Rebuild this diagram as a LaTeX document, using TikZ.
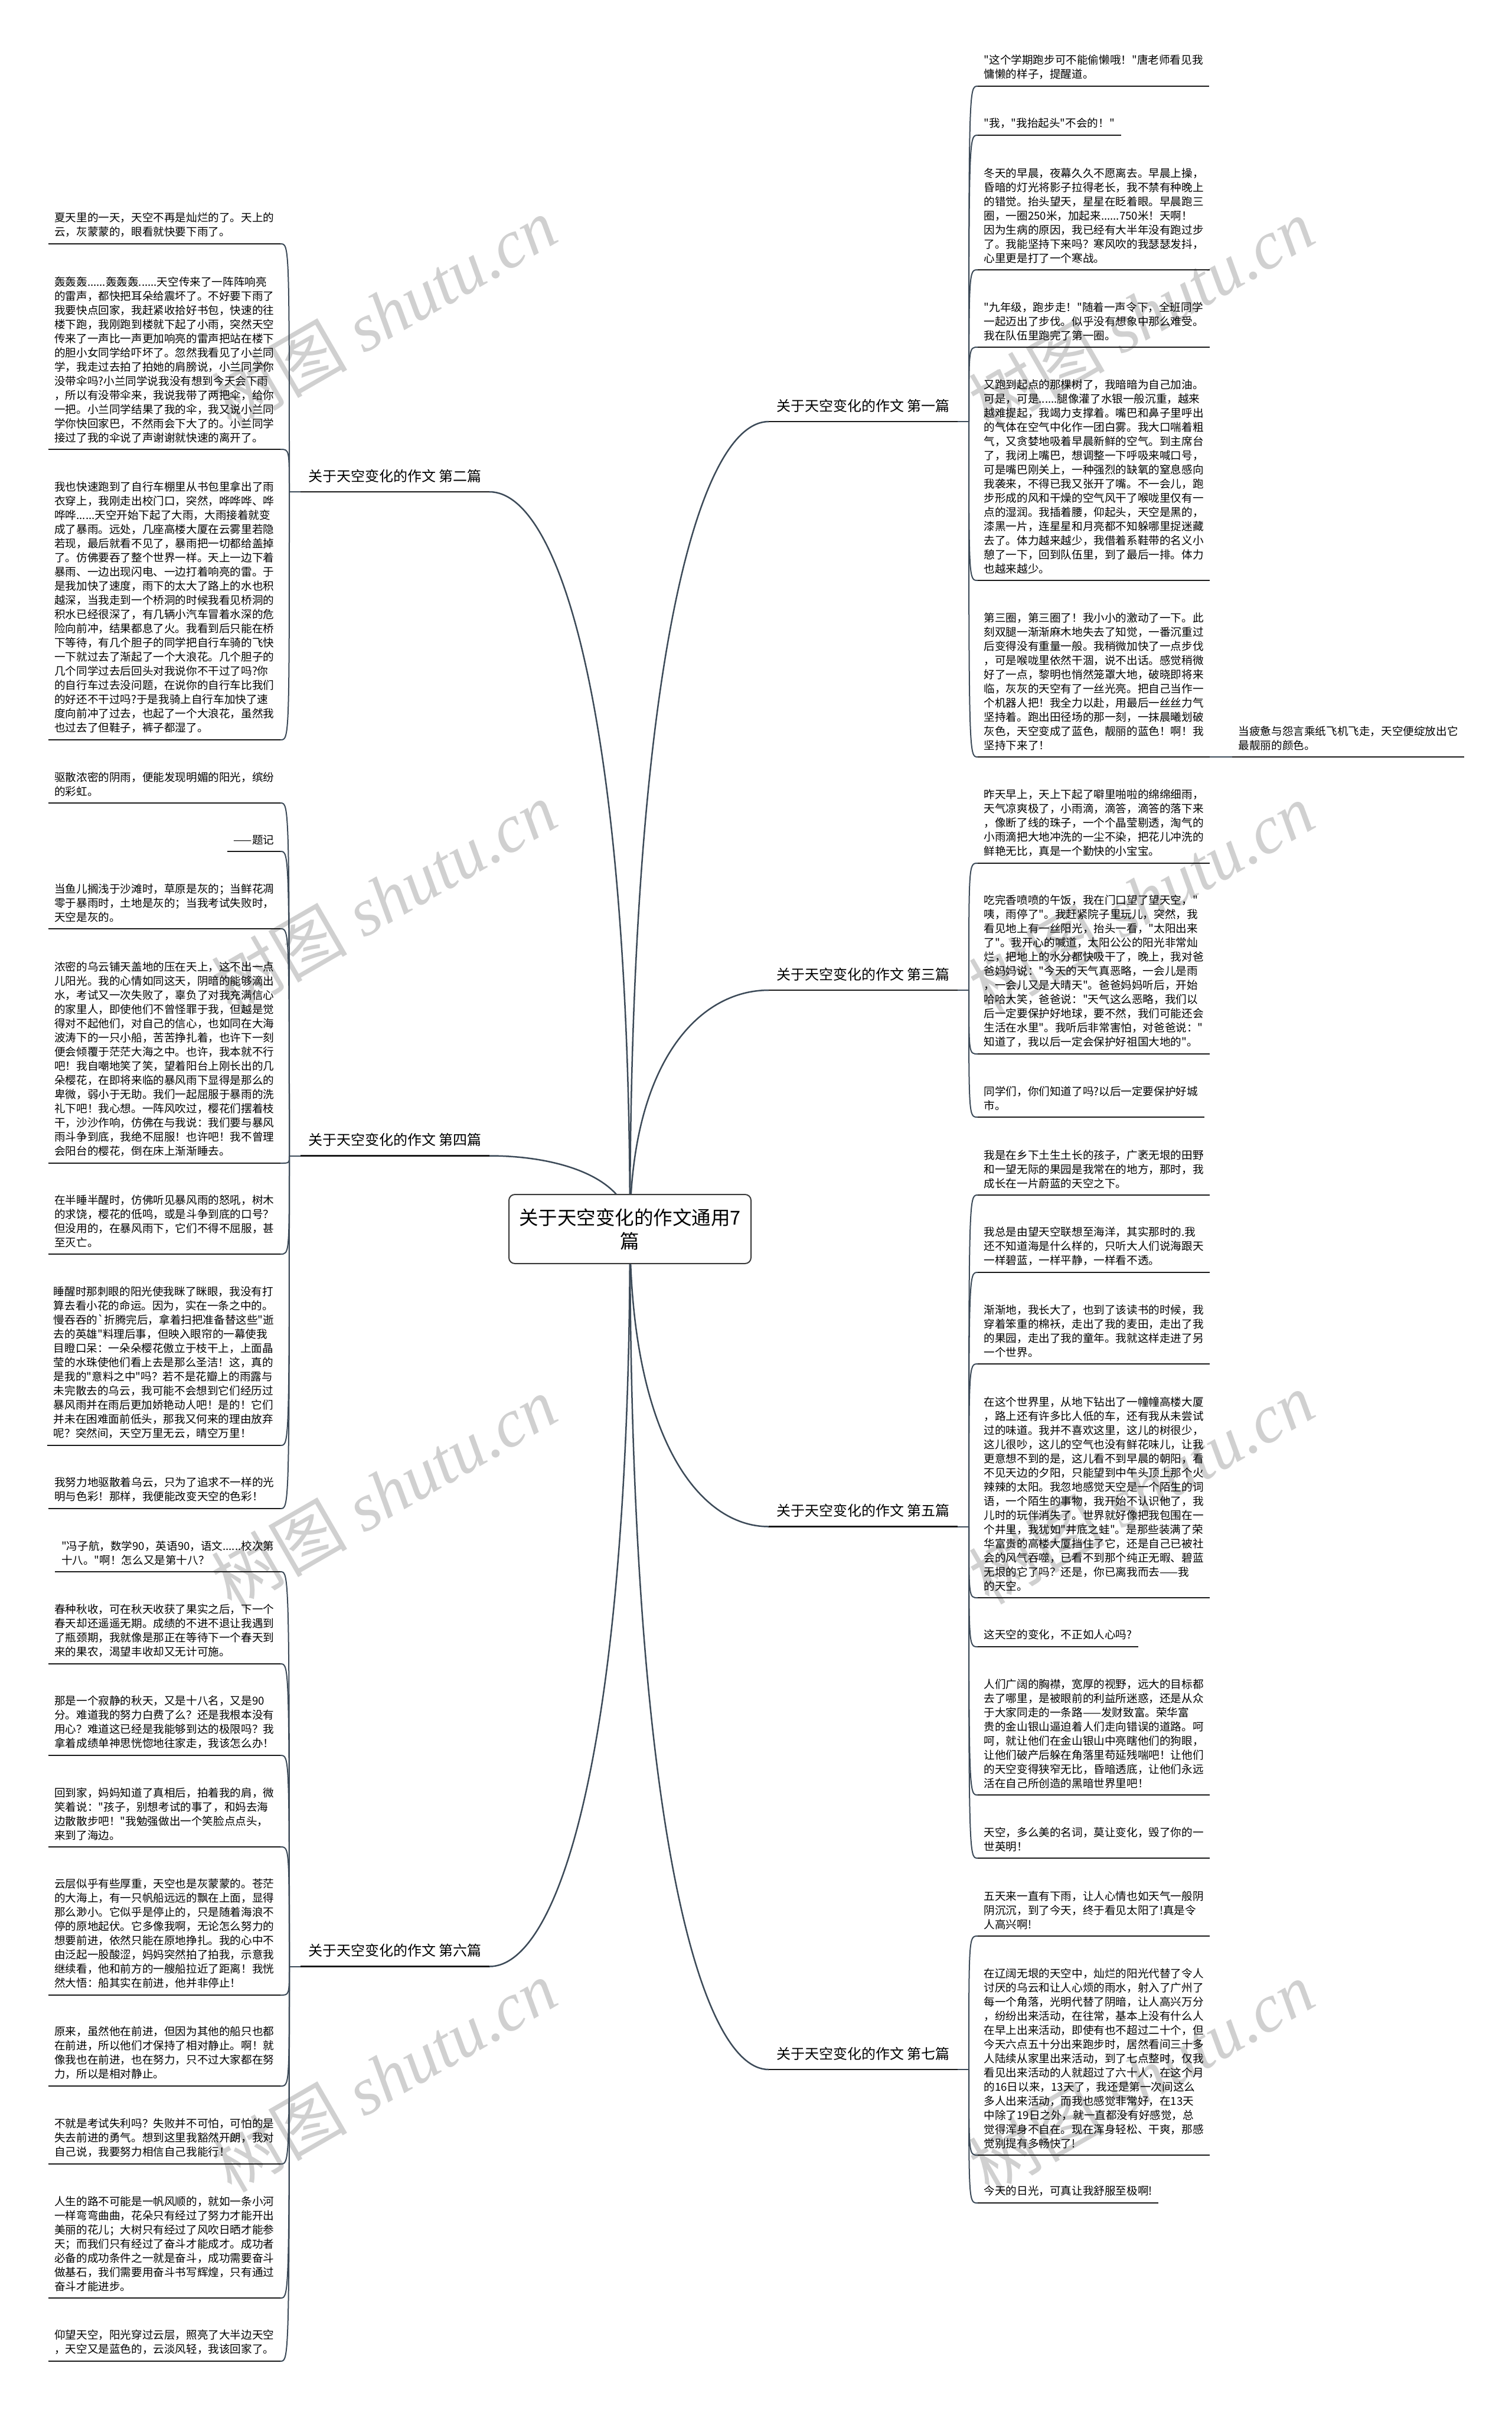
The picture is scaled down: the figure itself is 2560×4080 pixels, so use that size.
\documentclass[tikz,border=0pt]{standalone}
\usepackage{fontspec}
\newfontfamily\cjk{Noto Sans CJK SC}
\newfontfamily\wmfont{Liberation Serif}
\definecolor{conncol}{HTML}{3C4A58}
\definecolor{linecol}{HTML}{1A1A1A}
\definecolor{wmcol}{HTML}{D0D0D0}
\definecolor{rootline}{HTML}{3A3A3A}
\pgfdeclarelayer{bg}
\pgfsetlayers{bg,main}
\tikzset{
  txt/.style={font=\cjk\fontsize{18.6}{24}\selectfont, align=left, inner xsep=10.5, inner ysep=11, text=black},
  lt/.style={txt, anchor=south east},
  rt/.style={txt, anchor=south west},
  lab/.style={font=\cjk\fontsize{24}{30}\selectfont, inner xsep=13, inner ysep=15.5, text=black},
  llab/.style={lab, anchor=south east},
  rlab/.style={lab, anchor=south west},
  conn/.style={draw=conncol, line width=2pt},
  bconn/.style={draw=conncol, line width=2.5pt},
  uline/.style={draw=linecol, line width=2.2pt},
  rootbox/.style={draw=rootline, line width=2pt, rounded corners=10pt, fill=white,
    minimum width=410pt, minimum height=117pt, inner sep=0pt, align=center,
    font=\cjk\fontsize{32.5}{40}\selectfont},
  wm/.style={rotate=30, text=wmcol, inner sep=0pt, font=\fontsize{115}{130}\selectfont}
}
\newcommand\wmtext{{\cjk 树图}\hspace{28pt}{\wmfont\itshape shutu.cn}}
\begin{document}
\begin{tikzpicture}[x=1pt,y=-1pt]
\useasboundingbox (0,0) rectangle (2560,4080);
\begin{pgfonlayer}{bg}
\fill[white] (0,0) rectangle (2560,4080);
\node[wm] (wm1) at (650,530) {\wmtext};
\node[wm] (wm2) at (650,1520) {\wmtext};
\node[wm] (wm3) at (650,2527) {\wmtext};
\node[wm] (wm4) at (650,3516) {\wmtext};
\node[wm] (wm5) at (1933,532) {\wmtext};
\node[wm] (wm6) at (1933,1522) {\wmtext};
\node[wm] (wm7) at (1933,2520) {\wmtext};
\node[wm] (wm8) at (1933,3518) {\wmtext};
\end{pgfonlayer}

% root
\node[rootbox] (root) at (1067,2081.5) {关于天空变化的作文通用7\\篇};

% branch labels
\node[llab] (b2) at (829,833) {关于天空变化的作文 第二篇};
\node[llab] (b4) at (829,1957.5) {关于天空变化的作文 第四篇};
\node[llab] (b6) at (829,3330.5) {关于天空变化的作文 第六篇};
\node[rlab] (b1) at (1302,714) {关于天空变化的作文 第一篇};
\node[rlab] (b3) at (1302,1677) {关于天空变化的作文 第三篇};
\node[rlab] (b5) at (1302,2585.5) {关于天空变化的作文 第五篇};
\node[rlab] (b7) at (1302,3505) {关于天空变化的作文 第七篇};

\coordinate (h2) at (490,833);
\coordinate (h4) at (490,1957.5);
\coordinate (h6) at (490,3330.5);
\coordinate (h1) at (1641,714);
\coordinate (h3) at (1641,1677);
\coordinate (h5) at (1641,2585.5);
\coordinate (h7) at (1641,3505);

\begin{pgfonlayer}{bg}
\draw[bconn] (b2.south east) .. controls +(119,0) and +(0,-874) .. (root.center);
\draw[bconn] (b4.south east) .. controls +(119,0) and +(0,-86) .. (root.center);
\draw[bconn] (b6.south east) .. controls +(119,0) and +(0,875) .. (root.center);
\draw[bconn] (b1.south west) .. controls +(-118,0) and +(0,-957) .. (root.center);
\draw[bconn] (b3.south west) .. controls +(-118,0) and +(0,-283) .. (root.center);
\draw[bconn] (b5.south west) .. controls +(-118,0) and +(0,353) .. (root.center);
\draw[bconn] (b7.south west) .. controls +(-118,0) and +(0,997) .. (root.center);
\end{pgfonlayer}

\foreach \b/\h in {b2/h2,b4/h4,b6/h6}{
  \draw[conn] (\h) -- (\b.south west);
  \draw[uline] (\b.south west) -- (\b.south east);
}
\foreach \b/\h in {b1/h1,b3/h3,b5/h5,b7/h7}{
  \draw[conn] (\b.south east) -- (\h);
  \draw[uline] (\b.south west) -- (\b.south east);
}

% ---------------- left children ----------------
\node[lt] (l1) at (475,413) {夏天里的一天，天空不再是灿烂的了。天上的\\云，灰蒙蒙的，眼看就快要下雨了。};
\node[lt] (l2) at (475,761) {轰轰轰......轰轰轰......天空传来了一阵阵响亮\\的雷声，都快把耳朵给震坏了。不好要下雨了\\我要快点回家，我赶紧收拾好书包，快速的往\\楼下跑，我刚跑到楼就下起了小雨，突然天空\\传来了一声比一声更加响亮的雷声把站在楼下\\的胆小女同学给吓坏了。忽然我看见了小兰同\\学，我走过去拍了拍她的肩膀说，小兰同学你\\没带伞吗?小兰同学说我没有想到今天会下雨\\，所以有没带伞来，我说我带了两把伞，给你\\一把。小兰同学结果了我的伞，我又说小兰同\\学你快回家巴，不然雨会下大了的。小兰同学\\接过了我的伞说了声谢谢就快速的离开了。};
\node[lt] (l3) at (475,1253) {我也快速跑到了自行车棚里从书包里拿出了雨\\衣穿上，我刚走出校门口，突然，哗哗哗、哗\\哗哗......天空开始下起了大雨，大雨接着就变\\成了暴雨。远处，几座高楼大厦在云雾里若隐\\若现，最后就看不见了，暴雨把一切都给盖掉\\了。仿佛要吞了整个世界一样。天上一边下着\\暴雨、一边出现闪电、一边打着响亮的雷。于\\是我加快了速度，雨下的太大了路上的水也积\\越深，当我走到一个桥洞的时候我看见桥洞的\\积水已经很深了，有几辆小汽车冒着水深的危\\险向前冲，结果都息了火。我看到后只能在桥\\下等待，有几个胆子的同学把自行车骑的飞快\\一下就过去了渐起了一个大浪花。几个胆子的\\几个同学过去后回头对我说你不干过了吗?你\\的自行车过去没问题，在说你的自行车比我们\\的好还不干过吗?于是我骑上自行车加快了速\\度向前冲了过去，也起了一个大浪花，虽然我\\也过去了但鞋子，裤子都湿了。};

\node[lt] (l4) at (475,1360) {驱散浓密的阴雨，便能发现明媚的阳光，缤纷\\的彩虹。};
\node[lt] (l5) at (475,1442) {——题记};
\node[lt] (l6) at (475,1573) {当鱼儿搁浅于沙滩时，草原是灰的；当鲜花凋\\零于暴雨时，土地是灰的；当我考试失败时，\\天空是灰的。};
\node[lt] (l7) at (475,1970) {浓密的乌云铺天盖地的压在天上，这不出一点\\儿阳光。我的心情如同这天，阴暗的能够滴出\\水，考试又一次失败了，辜负了对我充满信心\\的家里人，即使他们不曾怪罪于我，但越是觉\\得对不起他们，对自己的信心，也如同在大海\\波涛下的一只小船，苦苦挣扎着，也许下一刻\\便会倾覆于茫茫大海之中。也许，我本就不行\\吧！我自嘲地笑了笑，望着阳台上刚长出的几\\朵樱花，在即将来临的暴风雨下显得是那么的\\卑微，弱小于无助。我们一起屈服于暴雨的洗\\礼下吧！我心想。一阵风吹过，樱花们摆着枝\\干，沙沙作响，仿佛在与我说：我们要与暴风\\雨斗争到底，我绝不屈服！也许吧！我不曾理\\会阳台的樱花，倒在床上渐渐睡去。};
\node[lt] (l8) at (475,2124) {在半睡半醒时，仿佛听见暴风雨的怒吼，树木\\的求饶，樱花的低鸣，或是斗争到底的口号？\\但没用的，在暴风雨下，它们不得不屈服，甚\\至灭亡。};
\node[lt] (l9) at (475,2448) {睡醒时那刺眼的阳光使我眯了眯眼，我没有打\\算去看小花的命运。因为，实在一条之中的。\\慢吞吞的`折腾完后，拿着扫把准备替这些"逝\\去的英雄"料理后事，但映入眼帘的一幕使我\\目瞪口呆：一朵朵樱花傲立于枝干上，上面晶\\莹的水珠使他们看上去是那么圣洁！这，真的\\是我的"意料之中"吗？若不是花瓣上的雨露与\\未完散去的乌云，我可能不会想到它们经历过\\暴风雨并在雨后更加娇艳动人吧！是的！它们\\并未在困难面前低头，那我又何来的理由放弃\\呢？突然间，天空万里无云，晴空万里！};
\node[lt] (l10) at (475,2555) {我努力地驱散着乌云，只为了追求不一样的光\\明与色彩！那样，我便能改变天空的色彩！};

\node[lt] (l11) at (475,2662) {"冯子航，数学90，英语90，语文......校次第\\十八。"啊！怎么又是第十八？};
\node[lt] (l12) at (475,2818) {春种秋收，可在秋天收获了果实之后，下一个\\春天却还遥遥无期。成绩的不进不退让我遇到\\了瓶颈期，我就像是那正在等待下一个春天到\\来的果农，渴望丰收却又无计可施。};
\node[lt] (l13) at (475,2973) {那是一个寂静的秋天，又是十八名，又是90\\分。难道我的努力白费了么？还是我根本没有\\用心？难道这已经是我能够到达的极限吗？我\\拿着成绩单神思恍惚地往家走，我该怎么办！};
\node[lt] (l14) at (475,3128) {回到家，妈妈知道了真相后，拍着我的肩，微\\笑着说："孩子，别想考试的事了，和妈去海\\边散散步吧！"我勉强做出一个笑脸点点头，\\来到了海边。};
\node[lt] (l15) at (475,3379) {云层似乎有些厚重，天空也是灰蒙蒙的。苍茫\\的大海上，有一只帆船远远的飘在上面，显得\\那么渺小。它似乎是停止的，只是随着海浪不\\停的原地起伏。它多像我啊，无论怎么努力的\\想要前进，依然只能在原地挣扎。我的心中不\\由泛起一股酸涩，妈妈突然拍了拍我，示意我\\继续看，他和前方的一艘船拉近了距离！我恍\\然大悟：船其实在前进，他并非停止！};
\node[lt] (l16) at (475,3533) {原来，虽然他在前进，但因为其他的船只也都\\在前进，所以他们才保持了相对静止。啊！就\\像我也在前进，也在努力，只不过大家都在努\\力，所以是相对静止。};
\node[lt] (l17) at (475,3665) {不就是考试失利吗？失败并不可怕，可怕的是\\失去前进的勇气。想到这里我豁然开朗，我对\\自己说，我要努力相信自己我能行！};
\node[lt] (l18) at (475,3892) {人生的路不可能是一帆风顺的，就如一条小河\\一样弯弯曲曲，花朵只有经过了努力才能开出\\美丽的花儿；大树只有经过了风吹日晒才能参\\天；而我们只有经过了奋斗才能成才。成功者\\必备的成功条件之一就是奋斗，成功需要奋斗\\做基石，我们需要用奋斗书写辉煌，只有通过\\奋斗才能进步。};
\node[lt] (l19) at (475,3999) {仰望天空，阳光穿过云层，照亮了大半边天空\\，天空又是蓝色的，云淡风轻，我该回家了。};

% ---------------- right children ----------------
\node[rt] (r1) at (1656,146) {"这个学期跑步可不能偷懒哦！"唐老师看见我\\慵懒的样子，提醒道。};
\node[rt] (r2) at (1656,229) {"我，"我抬起头"不会的！"};
\node[rt] (r3) at (1656,457) {冬天的早晨，夜幕久久不愿离去。早晨上操，\\昏暗的灯光将影子拉得老长，我不禁有种晚上\\的错觉。抬头望天，星星在眨着眼。早晨跑三\\圈，一圈250米，加起来......750米！天啊！\\因为生病的原因，我已经有大半年没有跑过步\\了。我能坚持下来吗？寒风吹的我瑟瑟发抖，\\心里更是打了一个寒战。};
\node[rt] (r4) at (1656,588) {"九年级，跑步走！"随着一声令下，全班同学\\一起迈出了步伐。似乎没有想象中那么难受。\\我在队伍里跑完了第一圈。};
\node[rt] (r5) at (1656,983) {又跑到起点的那棵树了，我暗暗为自己加油。\\可是，可是......腿像灌了水银一般沉重，越来\\越难提起，我竭力支撑着。嘴巴和鼻子里呼出\\的气体在空气中化作一团白雾。我大口喘着粗\\气，又贪婪地吸着早晨新鲜的空气。到主席台\\了，我闭上嘴巴，想调整一下呼吸来喊口号，\\可是嘴巴刚关上，一种强烈的缺氧的窒息感向\\我袭来，不得已我又张开了嘴。不一会儿，跑\\步形成的风和干燥的空气风干了喉咙里仅有一\\点的湿润。我插着腰，仰起头，天空是黑的，\\漆黑一片，连星星和月亮都不知躲哪里捉迷藏\\去了。体力越来越少，我借着系鞋带的名义小\\憩了一下，回到队伍里，到了最后一排。体力\\也越来越少。};
\node[rt] (r6) at (1656,1282) {第三圈，第三圈了！我小小的激动了一下。此\\刻双腿一渐渐麻木地失去了知觉，一番沉重过\\后变得没有重量一般。我稍微加快了一点步伐\\，可是喉咙里依然干涸，说不出话。感觉稍微\\好了一点，黎明也悄然笼罩大地，破晓即将来\\临，灰灰的天空有了一丝光亮。把自己当作一\\个机器人把！我全力以赴，用最后一丝丝力气\\坚持着。跑出田径场的那一刻，一抹晨曦划破\\灰色，天空变成了蓝色，靓丽的蓝色！啊！我\\坚持下来了！};
\node[rt] (f1) at (2087,1282) {当疲惫与怨言乘纸飞机飞走，天空便绽放出它\\最靓丽的颜色。};

\node[rt] (r7) at (1656,1462) {昨天早上，天上下起了噼里啪啦的绵绵细雨，\\天气凉爽极了，小雨滴，滴答，滴答的落下来\\，像断了线的珠子，一个个晶莹剔透，淘气的\\小雨滴把大地冲洗的一尘不染，把花儿冲洗的\\鲜艳无比，真是一个勤快的小宝宝。};
\node[rt] (r8) at (1656,1785) {吃完香喷喷的午饭，我在门口望了望天空，"\\咦，雨停了"。我赶紧院子里玩儿，突然，我\\看见地上有一丝阳光，抬头一看，"太阳出来\\了"。我开心的喊道，太阳公公的阳光非常灿\\烂，把地上的水分都快吸干了，晚上，我对爸\\爸妈妈说："今天的天气真恶略，一会儿是雨\\，一会儿又是大晴天"。爸爸妈妈听后，开始\\哈哈大笑，爸爸说："天气这么恶略，我们以\\后一定要保护好地球，要不然，我们可能还会\\生活在水里"。我听后非常害怕，对爸爸说："\\知道了，我以后一定会保护好祖国大地的"。};
\node[rt] (r9) at (1656,1892) {同学们，你们知道了吗?以后一定要保护好城\\市。};

\node[rt] (r10) at (1656,2024) {我是在乡下土生土长的孩子，广袤无垠的田野\\和一望无际的果园是我常在的地方，那时，我\\成长在一片蔚蓝的天空之下。};
\node[rt] (r11) at (1656,2155) {我总是由望天空联想至海洋，其实那时的.我\\还不知道海是什么样的，只听大人们说海跟天\\一样碧蓝，一样平静，一样看不透。};
\node[rt] (r12) at (1656,2310) {渐渐地，我长大了，也到了该读书的时候，我\\穿着笨重的棉袄，走出了我的麦田，走出了我\\的果园，走出了我的童年。我就这样走进了另\\一个世界。};
\node[rt] (r13) at (1656,2706) {在这个世界里，从地下钻出了一幢幢高楼大厦\\，路上还有许多比人低的车，还有我从未尝试\\过的味道。我并不喜欢这里，这儿的树很少，\\这儿很吵，这儿的空气也没有鲜花味儿，让我\\更意想不到的是，这儿看不到早晨的朝阳，看\\不见天边的夕阳，只能望到中午头顶上那个火\\辣辣的太阳。我忽地感觉天空是一个陌生的词\\语，一个陌生的事物，我开始不认识他了，我\\儿时的玩伴消失了。世界就好像把我包围在一\\个井里，我犹如"井底之蛙"。是那些装满了荣\\华富贵的高楼大厦挡住了它，还是自己已被社\\会的风气吞噬，已看不到那个纯正无暇、碧蓝\\无垠的它了吗？还是，你已离我而去——我\\的天空。};
\node[rt] (r14) at (1656,2789) {这天空的变化，不正如人心吗?};
\node[rt] (r15) at (1656,3040) {人们广阔的胸襟，宽厚的视野，远大的目标都\\去了哪里，是被眼前的利益所迷惑，还是从众\\于大家同走的一条路——发财致富。荣华富\\贵的金山银山逼迫着人们走向错误的道路。呵\\呵，就让他们在金山银山中亮瞎他们的狗眼，\\让他们破产后躲在角落里苟延残喘吧！让他们\\的天空变得狭窄无比，昏暗透底，让他们永远\\活在自己所创造的黑暗世界里吧！};
\node[rt] (r16) at (1656,3147) {天空，多么美的名词，莫让变化，毁了你的一\\世英明！};

\node[rt] (r17) at (1656,3279) {五天来一直有下雨，让人心情也如天气一般阴\\阴沉沉，到了今天，终于看见太阳了!真是令\\人高兴啊!};
\node[rt] (r18) at (1656,3650) {在辽阔无垠的天空中，灿烂的阳光代替了令人\\讨厌的乌云和让人心烦的雨水，射入了广州了\\每一个角落，光明代替了阴暗，让人高兴万分\\，纷纷出来活动，在往常，基本上没有什么人\\在早上出来活动，即使有也不超过二十个，但\\今天六点五十分出来跑步时，居然看间三十多\\人陆续从家里出来活动，到了七点整时，仅我\\看见出来活动的人就超过了六十人，在这个月\\的16日以来，13天了，我还是第一次间这么\\多人出来活动，而我也感觉非常好，在13天\\中除了19日之外，就一直都没有好感觉，总\\觉得浑身不自在。现在浑身轻松、干爽，那感\\觉别提有多畅快了!};
\node[rt] (r19) at (1656,3731) {今天的日光，可真让我舒服至极啊!};

% ---------------- connectors ----------------
\foreach \k in {l1,l2,l3}{\draw[conn] (h2) .. controls (h2 |- \k.south east) .. (\k.south east);}
\foreach \k in {l4,l5,l6,l7,l8,l9,l10}{\draw[conn] (h4) .. controls (h4 |- \k.south east) .. (\k.south east);}
\foreach \k in {l11,l12,l13,l14,l15,l16,l17,l18,l19}{\draw[conn] (h6) .. controls (h6 |- \k.south east) .. (\k.south east);}
\foreach \k in {r1,r2,r3,r4,r5,r6}{\draw[conn] (h1) .. controls (h1 |- \k.south west) .. (\k.south west);}
\foreach \k in {r7,r8,r9}{\draw[conn] (h3) .. controls (h3 |- \k.south west) .. (\k.south west);}
\foreach \k in {r10,r11,r12,r13,r14,r15,r16}{\draw[conn] (h5) .. controls (h5 |- \k.south west) .. (\k.south west);}
\foreach \k in {r17,r18,r19}{\draw[conn] (h7) .. controls (h7 |- \k.south west) .. (\k.south west);}
\draw[conn] (r6.south east) -- (f1.south west);

% underlines
\foreach \k in {l1,l2,l3,l4,l5,l6,l7,l8,l9,l10,l11,l12,l13,l14,l15,l16,l17,l18,l19,r1,r2,r3,r4,r5,r6,r7,r8,r9,r10,r11,r12,r13,r14,r15,r16,r17,r18,r19,f1}{
  \draw[uline] (\k.south west) -- (\k.south east);
}
\end{tikzpicture}
\end{document}
